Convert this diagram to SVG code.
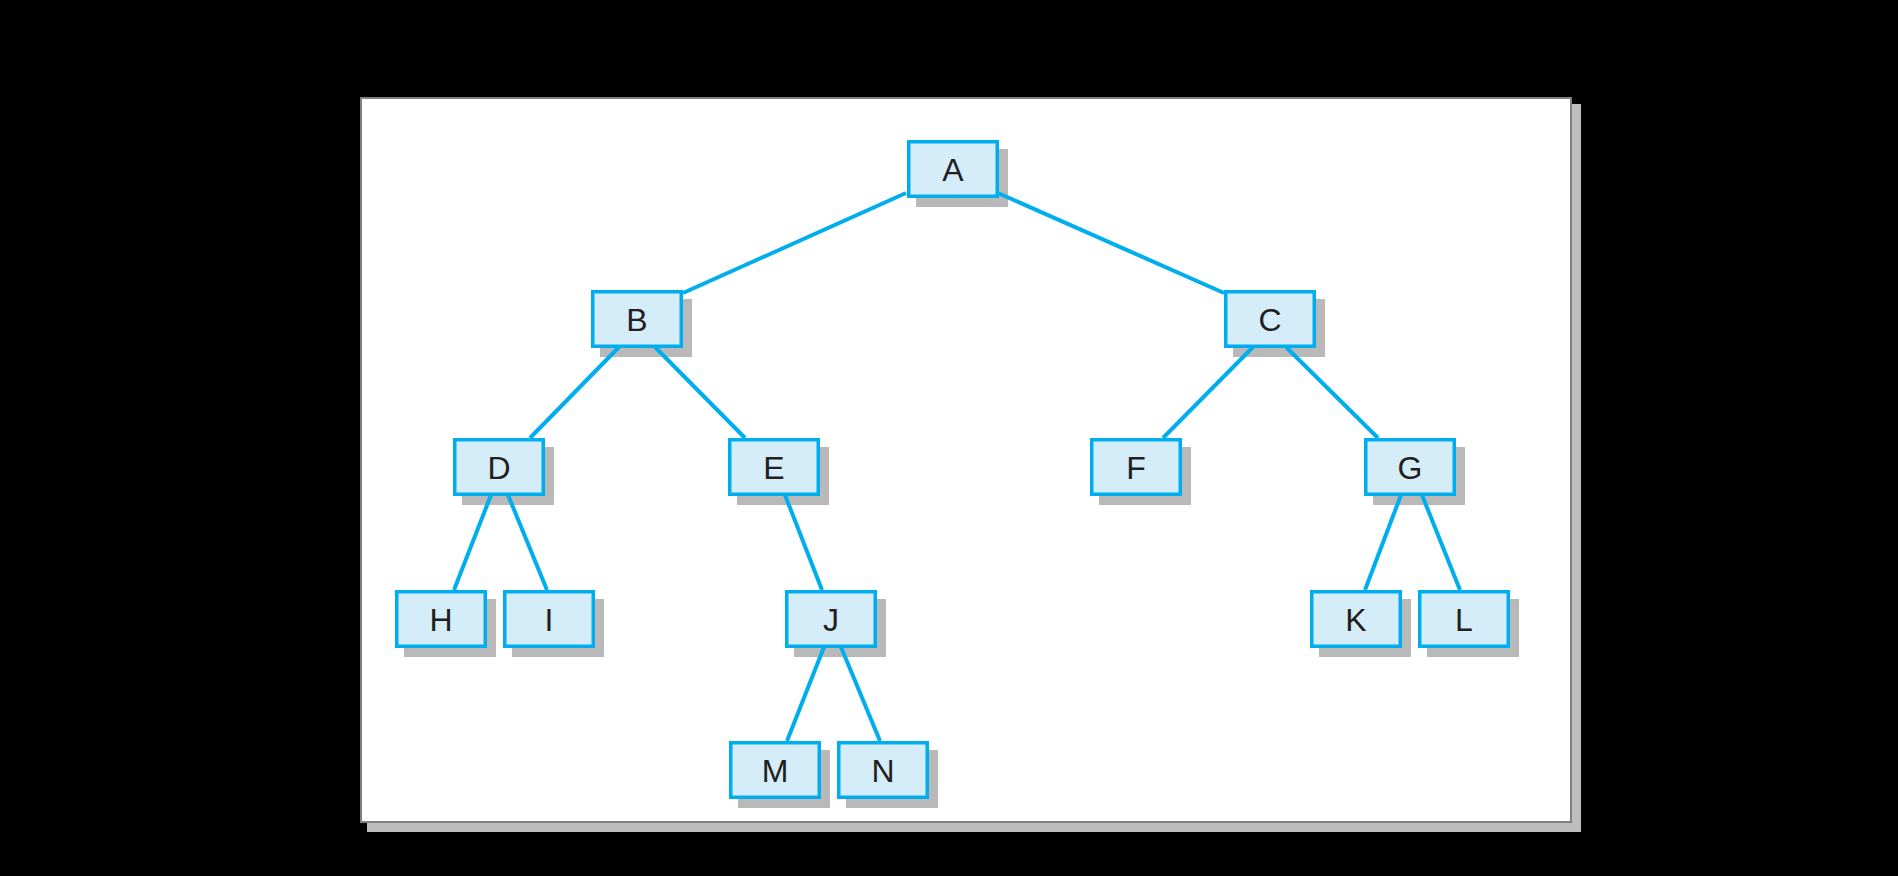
<svg xmlns="http://www.w3.org/2000/svg" width="1898" height="876" viewBox="0 0 1898 876">
<style>
.sh{fill:#b9b9b9}
.bx{fill:#d5ecf9;stroke:#00aeef;stroke-width:3.5}
.lb{font-family:"Liberation Sans",Arial,sans-serif;font-size:32px;fill:#231f20;text-anchor:middle}
.ed{stroke:#00aeef;stroke-width:4;fill:none;stroke-linecap:butt}
</style>
<defs>
<g id="box"><rect class="sh" x="9" y="9" width="92" height="58"/><rect class="bx" x="1.75" y="1.75" width="88.5" height="54.5"/></g>
</defs>
<rect x="0" y="0" width="1898" height="876" fill="#000"/>
<rect x="367" y="104" width="1214" height="728" fill="#bdbdbd"/>
<rect x="361" y="98" width="1210" height="724" fill="#fff" stroke="#808080" stroke-width="2"/>
<g id="node-A" transform="translate(907,140)"><use href="#box"/><text class="lb" x="46" y="40.5">A</text></g>
<g id="node-B" transform="translate(591,290)"><use href="#box"/><text class="lb" x="46" y="40.5">B</text></g>
<g id="node-C" transform="translate(1224,290)"><use href="#box"/><text class="lb" x="46" y="40.5">C</text></g>
<g id="node-D" transform="translate(453,438)"><use href="#box"/><text class="lb" x="46" y="40.5">D</text></g>
<g id="node-E" transform="translate(728,438)"><use href="#box"/><text class="lb" x="46" y="40.5">E</text></g>
<g id="node-F" transform="translate(1090,438)"><use href="#box"/><text class="lb" x="46" y="40.5">F</text></g>
<g id="node-G" transform="translate(1364,438)"><use href="#box"/><text class="lb" x="46" y="40.5">G</text></g>
<g id="node-H" transform="translate(395,590)"><use href="#box"/><text class="lb" x="46" y="40.5">H</text></g>
<g id="node-I" transform="translate(503,590)"><use href="#box"/><text class="lb" x="46" y="40.5">I</text></g>
<g id="node-J" transform="translate(785,590)"><use href="#box"/><text class="lb" x="46" y="40.5">J</text></g>
<g id="node-K" transform="translate(1310,590)"><use href="#box"/><text class="lb" x="46" y="40.5">K</text></g>
<g id="node-L" transform="translate(1418,590)"><use href="#box"/><text class="lb" x="46" y="40.5">L</text></g>
<g id="node-M" transform="translate(729,741)"><use href="#box"/><text class="lb" x="46" y="40.5">M</text></g>
<g id="node-N" transform="translate(837,741)"><use href="#box"/><text class="lb" x="46" y="40.5">N</text></g>
<g id="connectors">
<line class="ed" x1="906" y1="193" x2="683" y2="293"/>
<line class="ed" x1="998" y1="193" x2="1224" y2="293"/>
<line class="ed" x1="619" y1="347" x2="530" y2="438"/>
<line class="ed" x1="655" y1="347" x2="745" y2="438"/>
<line class="ed" x1="1253" y1="347" x2="1163" y2="438"/>
<line class="ed" x1="1286" y1="347" x2="1378" y2="438"/>
<line class="ed" x1="491" y1="495" x2="454" y2="590"/>
<line class="ed" x1="508" y1="495" x2="547" y2="590"/>
<line class="ed" x1="785" y1="495" x2="822" y2="590"/>
<line class="ed" x1="824" y1="647" x2="787" y2="741"/>
<line class="ed" x1="841" y1="647" x2="880" y2="741"/>
<line class="ed" x1="1401" y1="495" x2="1365" y2="590"/>
<line class="ed" x1="1422" y1="495" x2="1460" y2="590"/>
</g>
</svg>
